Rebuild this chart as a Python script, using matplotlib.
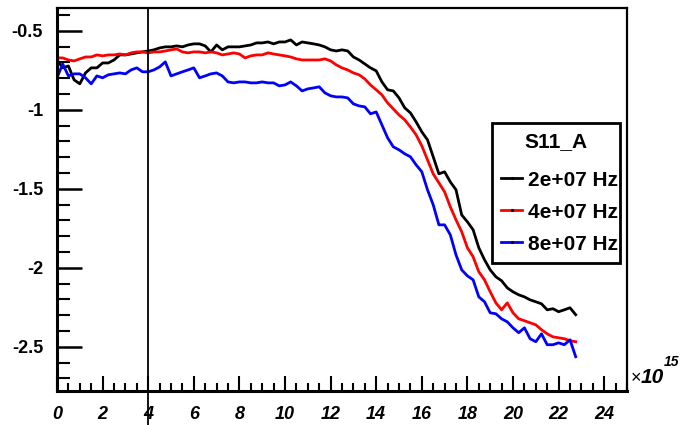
import numpy as np
import matplotlib.pyplot as plt
from matplotlib.ticker import MultipleLocator

# time axis, in units of 1e15
x_vals = np.arange(92) * 0.25

s11_2e7 = [-0.684, -0.734, -0.722, -0.810, -0.835, -0.766, -0.734, -0.734, -0.703, -0.703,
           -0.684, -0.652, -0.652, -0.646, -0.639, -0.633, -0.627, -0.620, -0.608, -0.601,
           -0.601, -0.595, -0.601, -0.589, -0.582, -0.582, -0.595, -0.633, -0.589, -0.620,
           -0.601, -0.601, -0.601, -0.595, -0.589, -0.576, -0.576, -0.570, -0.582, -0.570,
           -0.570, -0.557, -0.589, -0.570, -0.576, -0.582, -0.589, -0.601, -0.620, -0.627,
           -0.620, -0.627, -0.665, -0.684, -0.709, -0.734, -0.753, -0.823, -0.873, -0.880,
           -0.924, -0.987, -1.019, -1.076, -1.139, -1.190, -1.297, -1.405, -1.392, -1.456,
           -1.506, -1.665, -1.709, -1.759, -1.873, -1.949, -2.013, -2.057, -2.082, -2.127,
           -2.152, -2.171, -2.184, -2.203, -2.215, -2.228, -2.266, -2.259, -2.278, -2.266,
           -2.253, -2.297]

s11_4e7 = [-0.671, -0.671, -0.684, -0.690, -0.677, -0.665, -0.665, -0.652, -0.658, -0.652,
           -0.652, -0.646, -0.652, -0.639, -0.633, -0.633, -0.639, -0.633, -0.633, -0.627,
           -0.620, -0.614, -0.633, -0.639, -0.633, -0.633, -0.639, -0.633, -0.639, -0.652,
           -0.646, -0.639, -0.646, -0.671, -0.658, -0.652, -0.652, -0.639, -0.646, -0.652,
           -0.658, -0.665, -0.677, -0.684, -0.684, -0.684, -0.684, -0.677, -0.690, -0.715,
           -0.734, -0.747, -0.766, -0.778, -0.804, -0.842, -0.873, -0.905, -0.956, -0.994,
           -1.032, -1.063, -1.108, -1.158, -1.228, -1.316, -1.405, -1.462, -1.519, -1.614,
           -1.696, -1.772, -1.873, -1.930, -2.025, -2.076, -2.152, -2.222, -2.266, -2.222,
           -2.285, -2.323, -2.335, -2.348, -2.361, -2.392, -2.418, -2.437, -2.443, -2.449,
           -2.462, -2.468]

s11_8e7 = [-0.797, -0.709, -0.785, -0.772, -0.772, -0.797, -0.835, -0.785, -0.797, -0.778,
           -0.772, -0.766, -0.772, -0.747, -0.734, -0.759, -0.759, -0.747, -0.728, -0.696,
           -0.785, -0.772, -0.759, -0.747, -0.734, -0.797, -0.785, -0.772, -0.766, -0.785,
           -0.823, -0.829, -0.823, -0.823, -0.829, -0.829, -0.823, -0.829, -0.829, -0.848,
           -0.842, -0.823, -0.848, -0.880, -0.867, -0.861, -0.854, -0.892, -0.911, -0.918,
           -0.918, -0.924, -0.962, -0.975, -0.981, -1.025, -1.013, -1.095, -1.177, -1.234,
           -1.253, -1.278, -1.297, -1.348, -1.392, -1.506, -1.601, -1.728, -1.728, -1.791,
           -1.918, -2.013, -2.051, -2.076, -2.184, -2.215, -2.285, -2.291, -2.323, -2.342,
           -2.380, -2.411, -2.380, -2.449, -2.468, -2.418, -2.487, -2.487, -2.475, -2.487,
           -2.456, -2.563]

freq_labels = ["2e+07 Hz", "4e+07 Hz", "8e+07 Hz"]
colors = ["black", "red", "blue"]
marker_x = 4.0

plt.rcParams['font.family'] = ['Liberation Sans', 'DejaVu Sans']

fig = plt.figure(figsize=(6.86, 4.25), dpi=100)
ax = fig.add_axes([57 / 686, 34 / 425, 570 / 686, 383 / 425])

for ys, c, lab in zip([s11_2e7, s11_4e7, s11_8e7], colors, freq_labels):
    ax.plot(x_vals, ys, color=c, lw=2.0, label=lab,
            marker='.', markersize=2.5, markevery=[], mfc='black', mec='black')

ax.axvline(marker_x, ymin=-0.09, ymax=1.0, color='black', lw=1.3, clip_on=False)

ax.set_xlim(0, 25)
ax.set_ylim(-2.78, -0.355)

ax.xaxis.set_major_locator(MultipleLocator(2))
ax.xaxis.set_minor_locator(MultipleLocator(0.5))
ax.yaxis.set_major_locator(MultipleLocator(0.5))
ax.yaxis.set_minor_locator(MultipleLocator(0.1))
ax.yaxis.set_major_formatter(plt.FuncFormatter(lambda v, p: f"{v:g}"))

ax.tick_params(axis='x', which='major', direction='in', length=11, width=1.5, pad=11,
               labelsize=13)
ax.tick_params(axis='x', which='minor', direction='in', length=6, width=1.5)
ax.tick_params(axis='y', which='major', direction='in', length=18, width=1.8, pad=10,
               labelsize=13)
ax.tick_params(axis='y', which='minor', direction='in', length=9, width=1.5)
for t in ax.get_xticklabels():
    t.set_fontweight('bold')
    t.set_fontstyle('italic')
for t in ax.get_yticklabels():
    t.set_fontweight('bold')

for side in ['left', 'bottom']:
    ax.spines[side].set_linewidth(2.2)
for side in ['top', 'right']:
    ax.spines[side].set_linewidth(1.6)

# axis exponent
ax.text(1.006, 0.02, "×", transform=ax.transAxes, fontsize=13, ha='left', va='baseline')
ax.text(1.024, 0.02, "10", transform=ax.transAxes, fontsize=15, fontstyle='italic',
        fontweight='bold', ha='left', va='baseline')
ax.text(1.064, 0.065, "15", transform=ax.transAxes, fontsize=10, fontstyle='italic',
        fontweight='bold', ha='left', va='baseline')

leg = ax.legend(title="S11_A", loc='upper left', bbox_to_anchor=(0.763, 0.70, 0.225, 0.0),
                mode='expand', fancybox=False, framealpha=1, edgecolor='black',
                prop={'weight': 'bold', 'size': 15}, handlelength=1.0, handletextpad=0.3,
                labelspacing=0.62, borderpad=0.45, borderaxespad=0)
leg.get_title().set_fontweight('bold')
leg.get_title().set_fontsize(15)
leg.get_frame().set_linewidth(2.0)
leg._legend_box.sep = 14

fig.savefig("out.png", dpi=100)
